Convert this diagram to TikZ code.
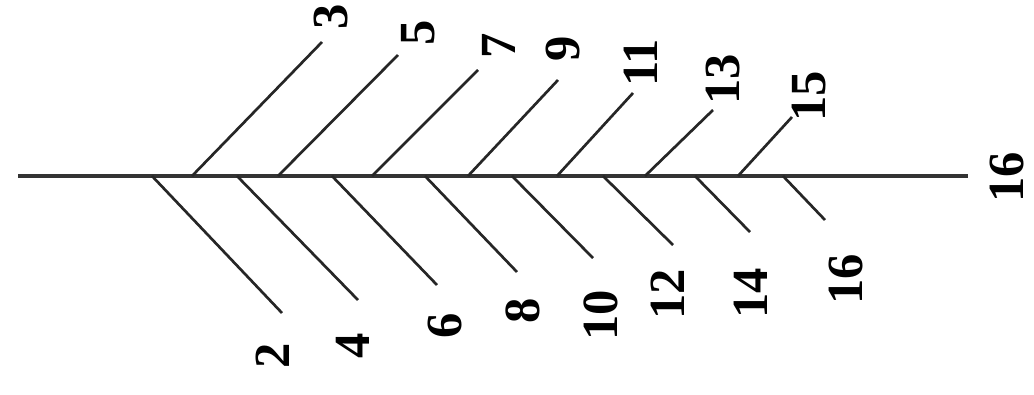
\documentclass[tikz,border=0pt]{standalone}
\usepackage{fontspec}
\setmainfont{Liberation Serif}
\begin{document}
\begin{tikzpicture}[x=0.025cm,y=-0.025cm,
  stem/.style={line width=2.2pt,color=black!80},
  twig/.style={line width=1.9pt,color=black!85},
  num/.style={rotate=90,inner sep=0pt,font=\fontsize{36}{36}\selectfont\bfseries}]
\useasboundingbox (0,0) rectangle (1034,395);

% main line
\coordinate (w) at (18,176);
\coordinate (e) at (968,176);
\draw[stem] (w) -- (e);
\node[num] (r16) at (1007,177) {16};

% upper branches
\coordinate (u3) at (192,176);  \coordinate (t3) at (322,42);
\coordinate (u5) at (278,176);  \coordinate (t5) at (398,55);
\coordinate (u7) at (372,176);  \coordinate (t7) at (478,70);
\coordinate (u9) at (468,176);  \coordinate (t9) at (558,80);
\coordinate (u11) at (557,176); \coordinate (t11) at (633,93);
\coordinate (u13) at (645,176); \coordinate (t13) at (713,110);
\coordinate (u15) at (738,176); \coordinate (t15) at (792,117);
\draw[twig] (u3) -- (t3);
\draw[twig] (u5) -- (t5);
\draw[twig] (u7) -- (t7);
\draw[twig] (u9) -- (t9);
\draw[twig] (u11) -- (t11);
\draw[twig] (u13) -- (t13);
\draw[twig] (u15) -- (t15);
\node[num] (n3) at (331,17) {3};
\node[num] (n5) at (418,33) {5};
\node[num] (n7) at (499,46) {7};
\node[num] (n9) at (563,49) {9};
\node[num] (n11) at (641,63) {11};
\node[num] (n13) at (723,79) {13};
\node[num] (n15) at (809,96) {15};

% lower branches
\coordinate (d2) at (152,176);  \coordinate (b2) at (282,313);
\coordinate (d4) at (237,176);  \coordinate (b4) at (358,300);
\coordinate (d6) at (332,176);  \coordinate (b6) at (437,285);
\coordinate (d8) at (425,176);  \coordinate (b8) at (517,272);
\coordinate (d10) at (512,176); \coordinate (b10) at (593,258);
\coordinate (d12) at (603,176); \coordinate (b12) at (673,245);
\coordinate (d14) at (695,176); \coordinate (b14) at (750,232);
\coordinate (d16) at (783,176); \coordinate (b16) at (825,220);
\draw[twig] (d2) -- (b2);
\draw[twig] (d4) -- (b4);
\draw[twig] (d6) -- (b6);
\draw[twig] (d8) -- (b8);
\draw[twig] (d10) -- (b10);
\draw[twig] (d12) -- (b12);
\draw[twig] (d14) -- (b14);
\draw[twig] (d16) -- (b16);
\node[num] (n2) at (273,356) {2};
\node[num] (n4) at (353,346) {4};
\node[num] (n6) at (445,326) {6};
\node[num] (n8) at (523,311) {8};
\node[num] (n10) at (601,315) {10};
\node[num] (n12) at (668,294) {12};
\node[num] (n14) at (751,293) {14};
\node[num] (n16) at (846,279) {16};
\end{tikzpicture}
\end{document}
